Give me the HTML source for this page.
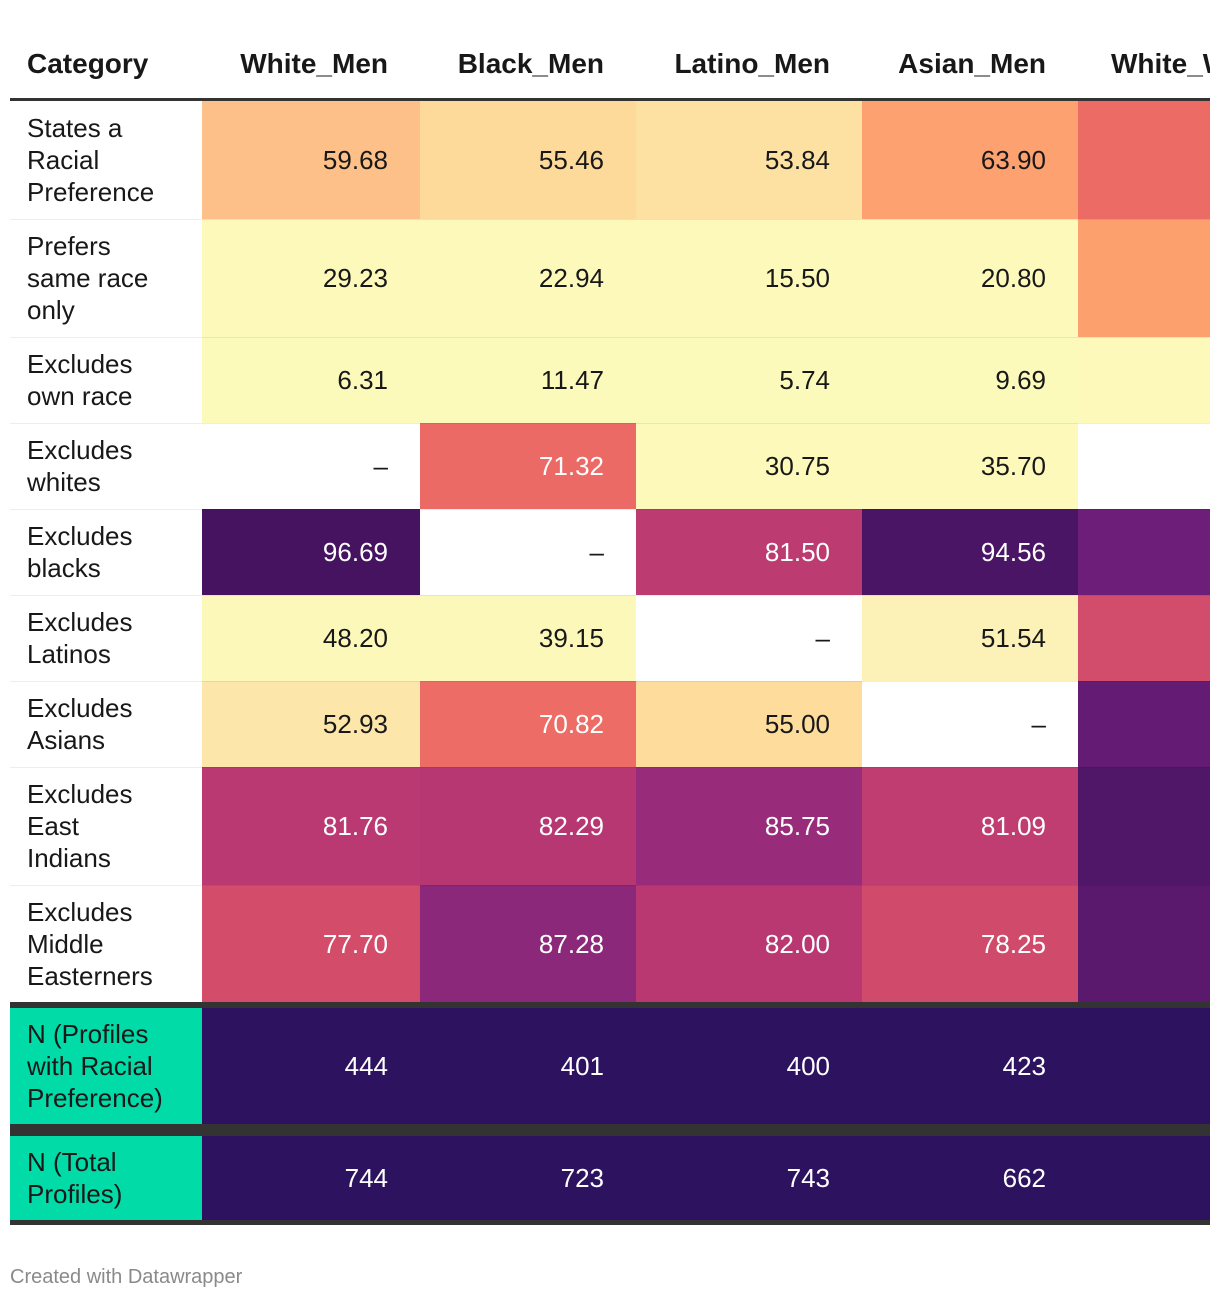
<!DOCTYPE html>
<html><head><meta charset="utf-8">
<style>
body{margin:0;width:1220px;height:1302px;background:#fff;font-family:"Liberation Sans",Arial,sans-serif;position:relative;overflow:hidden;color:#181818}
#wrap{position:absolute;left:10px;top:0;width:1200px;height:1240px;overflow:hidden}
.c{position:absolute;box-sizing:border-box;font-size:26px;line-height:32px;display:flex;align-items:center}
.num{justify-content:flex-end;padding-right:32px}
.lab{padding-left:17px;white-space:pre-line}
.hd{position:absolute;top:44px;font-size:28px;font-weight:bold;height:40px;line-height:40px;white-space:nowrap;color:#181818}
.bar{position:absolute;left:0;width:1200px;background:#333}
.sep{position:absolute;left:0;width:1200px;height:1px;background:rgba(0,0,0,0.07)}
#foot{position:absolute;left:10px;top:1266px;font-size:20px;color:#8a8a8a}
</style></head><body>
<div id="wrap"></div>
<div id="foot">Created with Datawrapper</div>
<script>
const columns=["White_Men","Black_Men","Latino_Men","Asian_Men","White_Women"];
const categories=["States a\nRacial\nPreference","Prefers\nsame race\nonly","Excludes\nown race","Excludes\nwhites","Excludes\nblacks","Excludes\nLatinos","Excludes\nAsians","Excludes\nEast\nIndians","Excludes\nMiddle\nEasterners"];
const whiteMen=[59.68,29.23,6.31,null,96.69,48.20,52.93,81.76,77.70];
const blackMen=[55.46,22.94,11.47,71.32,null,39.15,70.82,82.29,87.28];
const latinoMen=[53.84,15.50,5.74,30.75,81.50,null,55.00,85.75,82.00];
const asianMen=[63.90,20.80,9.69,35.70,94.56,51.54,null,81.09,78.25];
const whiteWomen=[71,64,30,null,91,78,92,94,93];
const nLabels=["N (Profiles\nwith Racial\nPreference)","N (Total\nProfiles)"];
const nWithPref=[444,401,400,423,null];
const nTotal=[744,723,743,662,null];

const colX=[192,410,626,852,1068], colW=[218,216,226,216,200];
const rowY=[101,219,337,423,509,595,681,767,885], rowH=[118,118,86,86,86,86,86,118,117];
const stops=[[0,"#fcfabb"],[48,"#fcf8ba"],[52,"#fcf0b6"],[53,"#fde5a8"],[55,"#fddc9c"],[60,"#fdbe87"],[64,"#fca06e"],[71,"#ed6b65"],[78,"#d24c6b"],[82,"#b93872"],[86,"#972b7b"],[91,"#6d1e78"],[94.5,"#4b1565"],[97,"#44135f"]];
function hex(h){return [1,3,5].map(i=>parseInt(h.substr(i,2),16));}
function color(v){
  if(v==null) return "#ffffff";
  for(let i=1;i<stops.length;i++){
    if(v<=stops[i][0]){const a=stops[i-1],b=stops[i];const t=(v-a[0])/(b[0]-a[0]);
      const ca=hex(a[1]),cb=hex(b[1]);return "rgb("+ca.map((x,k)=>Math.round(x+(cb[k]-x)*t)).join(",")+")";}
  }
  return stops[stops.length-1][1];
}
const W=document.getElementById('wrap');
function mk(cls,x,y,w,h,bg,txt,fg){const d=document.createElement('div');d.className=cls;
  d.style.cssText=`left:${x}px;top:${y}px;width:${w}px;height:${h}px;background:${bg};color:${fg||'#181818'}`;d.textContent=txt;W.appendChild(d);return d;}
const h0=document.createElement('div');h0.className='hd';h0.style.left='17px';h0.textContent='Category';


W.appendChild(h0);
columns.forEach((c,i)=>{const h=document.createElement('div');h.className='hd';
  if(i<4){h.style.left=colX[i]+'px';h.style.width=(colW[i]-32)+'px';h.style.textAlign='right';}
  else{h.style.left=(colX[i]+33)+'px';}
  h.textContent=c;
  
  
  W.appendChild(h);});
const series=[whiteMen,blackMen,latinoMen,asianMen,whiteWomen];
categories.forEach((cat,r)=>{
  const l=mk('c lab',0,rowY[r],192,rowH[r],'#fff',cat);
  
  
  series.forEach((s,c)=>{const v=s[r];
    const txt=c==4?'':(v==null?'–':v.toFixed(2));
    const d=mk('c num',colX[c],rowY[r],colW[c],rowH[r],color(v),txt,(v!=null&&v>=70)?'#fff':'#181818');
    
    
  });
  if(r>0){const s=document.createElement('div');s.className='sep';s.style.top=rowY[r]+'px';
    
    
    W.appendChild(s);}
});
const nRows=[[nWithPref,1008,116],[nTotal,1136,84]];
nRows.forEach(([arr,y,h],k)=>{
  const l=mk('c lab',0,y,192,h,'#00dba8',nLabels[k]);
  
  
  arr.forEach((v,c)=>{const d=mk('c num',colX[c],y,colW[c],h,'#2d1260',v==null?'':String(v),'#fff');
    
    });
});
[[98,3],[1002,6],[1124,12],[1220,5]].forEach(([y,h])=>{const b=document.createElement('div');b.className='bar';
  b.style.top=y+'px';b.style.height=h+'px';
  
  
  W.appendChild(b);});
</script>
</body></html>
